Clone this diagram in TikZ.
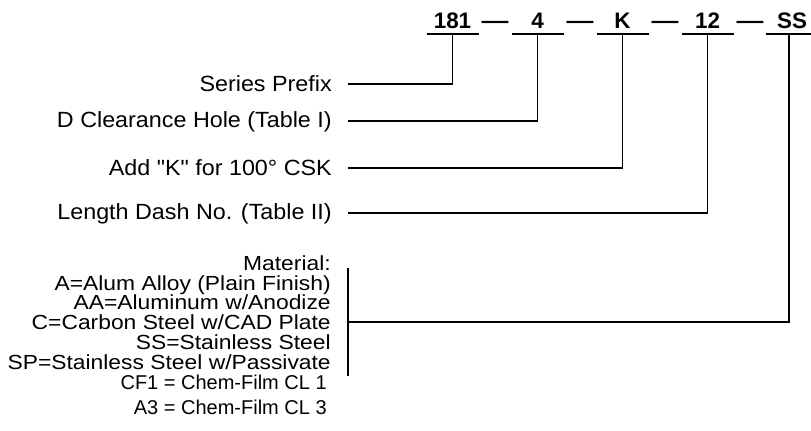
\documentclass[tikz,border=0pt]{standalone}
\usepackage{fontspec}
\setmainfont{Liberation Sans}
\newfontfamily\labfont[FakeStretch=1.06]{Liberation Sans}
\newfontfamily\matfont[FakeStretch=1.12]{Liberation Sans}
\begin{document}
\begin{tikzpicture}[x=0.75pt,y=-0.75pt,
  lab/.style={anchor=base east, inner sep=0pt, font=\labfont\fontsize{16.5}{18}\selectfont},
  mat/.style={anchor=base east, inner sep=0pt, font=\matfont\fontsize{15.3}{16}\selectfont},
  note/.style={anchor=base east, inner sep=0pt, font=\fontsize{15}{18}\selectfont},
  code/.style={anchor=base, inner sep=0pt, font=\bfseries\fontsize{16.8}{18}\selectfont},
  wire/.style={line width=1.4pt},
  uline/.style={line width=1.6pt}]
\useasboundingbox (0,0) rectangle (811,431);

% code row
\node[code] (c1) at (452.5,29) {181};
\node[code] (c2) at (537.5,29) {4};
\node[code] (c3) at (622.5,29) {K};
\node[code] (c4) at (707.5,29) {12};
\node[code] (c5) at (792,29) {SS};
\node[code] (d1) at (495,29) {\scalebox{1.2}[1]{—}};
\node[code] (d2) at (580,29) {\scalebox{1.2}[1]{—}};
\node[code] (d3) at (665,29) {\scalebox{1.2}[1]{—}};
\node[code] (d4) at (750,29) {\scalebox{1.2}[1]{—}};

\coordinate (u1) at (452.5,34);
\coordinate (u2) at (537.5,34);
\coordinate (u3) at (622.5,34);
\coordinate (u4) at (707.5,34);
\coordinate (u5) at (789,34);
\foreach \u in {u1,u2,u3,u4}
  \draw[uline] ([xshift=-19.5pt]\u) -- ([xshift=19.5pt]\u);
\draw[uline] ([xshift=-17pt]u5) -- ([xshift=16.5pt]u5);

% labels
\node[lab] (l1) at (332,92) {Series Prefix};
\node[lab] (l2) at (332,128) {D Clearance Hole (Table I)};
\node[lab] (l3) at (332,176) {Add {\char34}K{\char34} for 100° CSK};
\node[lab] (l4) at (332,220) {Length Dash No. (Table II)};

\node[mat] (m0) at (331,270.5) {Material:};
\node[mat] (m1) at (331,290.5) {A=Alum Alloy (Plain Finish)};
\node[mat] (m2) at (331,309.5) {AA=Aluminum w/Anodize};
\node[mat] (m3) at (331,329.5) {C=Carbon Steel w/CAD Plate};
\node[mat] (m4) at (331,349.5) {SS=Stainless Steel};
\node[mat] (m5) at (331,369.5) {SP=Stainless Steel w/Passivate};
\node[note] (n1) at (327,389.5) {CF1 = Chem-Film CL 1};
\node[note] (n2) at (327,414) {A3 = Chem-Film CL 3};

% connectors
\coordinate (e1) at (348,84);
\coordinate (e2) at (348,121);
\coordinate (e3) at (348,168);
\coordinate (e4) at (348,213);
\coordinate (e5) at (348,322);
\coordinate (bt) at (348,268);
\coordinate (bb) at (348,376);
\draw[wire] (u1) |- (e1);
\draw[wire] (u2) |- (e2);
\draw[wire] (u3) |- (e3);
\draw[wire] (u4) |- (e4);
\draw[wire] (u5) |- (e5);
\draw[wire] (bt) -- (bb);
\end{tikzpicture}
\end{document}
